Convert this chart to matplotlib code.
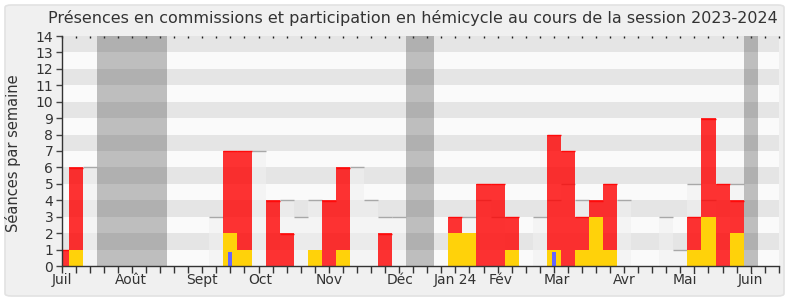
import matplotlib
matplotlib.use('Agg')
import matplotlib.pyplot as plt
from matplotlib.patches import FancyBboxPatch

# one value per week of the session, week 0 = first week of July 2023
weeks = list(range(52))
commission = [1, 6, 0, 0, 0, 0, 0, 0, 0, 0, 0, 0, 7, 7, 0, 4, 2, 0, 0, 4,
              6, 0, 0, 2, 0, 0, 0, 0, 3, 0, 5, 5, 3, 0, 0, 8, 7, 3, 4, 5,
              0, 0, 0, 0, 0, 3, 9, 5, 4, 0, 0, 0]
hemicycle = [0, 1, 0, 0, 0, 0, 0, 0, 0, 0, 0, 0, 2, 1, 0, 0, 0, 0, 1, 0,
             1, 0, 0, 0, 0, 0, 0, 0, 2, 2, 0, 0, 1, 0, 0, 1, 0, 1, 3, 1,
             0, 0, 0, 0, 0, 1, 3, 0, 2, 0, 0, 0]
questions = [0, 0, 0, 0, 0, 0, 0, 0, 0, 0, 0, 0, 0.85, 0, 0, 0, 0, 0, 0, 0,
             0, 0, 0, 0, 0, 0, 0, 0, 0, 0, 0, 0, 0, 0, 0, 0.85, 0, 0, 0, 0,
             0, 0, 0, 0, 0, 0, 0, 0, 0, 0, 0, 0]
mediane = [0, 0, 6, 0, 0, 0, 0, 0, 0, 0, 0, 3, 0, 0, 7, 0, 4, 3, 4, 0,
           0, 6, 4, 3, 3, 0, 0, 0, 0, 3, 4, 3, 0, 0, 3, 4, 5, 4, 0, 0,
           4, 0, 0, 3, 1, 5, 4, 0, 5, 0, 0, 0]
vacances = [(3, 7), (25, 26), (49, 49)]

mois = ['Juil', 'Août', 'Sept', 'Oct', 'Nov', 'Déc', 'Jan 24', 'Fév',
        'Mar', 'Avr', 'Mai', 'Juin']
mois_pos = [0, 4.95, 9.95, 14.1, 19, 24.05, 28, 31.25, 35.2, 40, 44.3, 49]

fig = plt.figure(figsize=(7.9, 3.0), dpi=100)
fig.patch.set_facecolor('white')
fig.patches.append(FancyBboxPatch((5 / 790, 4 / 300), 779 / 790, 291 / 300,
                                  boxstyle='round,pad=0,rounding_size=0.008',
                                  transform=fig.transFigure, facecolor='#f0f0f0',
                                  edgecolor='#e2e2e2', linewidth=1.2, zorder=-10))

ax = fig.add_axes([61.7 / 790, 34 / 300, 717.1 / 790, 230 / 300])
ax.set_xlim(0, 51)
ax.set_ylim(0, 14)

# background stripes
for k in range(14):
    ax.axhspan(k, k + 1, color='#e5e5e5' if k % 2 else '#fafafa', lw=0, zorder=0)

# parliamentary holidays
for a, b in vacances:
    ax.axvspan(a - 0.5, b + 0.5, color='#464646', alpha=0.33, lw=0, zorder=1)

# median of all deputies
ax.bar(weeks, mediane, width=1, color='#f0f0f0', alpha=0.6, lw=0, zorder=2)
for w, m in zip(weeks, mediane):
    if m > 0:
        ax.hlines(m, w - 0.5, w + 0.5, color='#a8a8a8', lw=1, zorder=2.5)

ax.bar(weeks, commission, width=1, color='red', alpha=0.8, lw=0, zorder=3)
for w, c in zip(weeks, commission):
    if c > 0:
        ax.hlines(c - 0.03, w - 0.5, w + 0.5, color='#ff0a0a', lw=1, zorder=3.2)
ax.bar(weeks, hemicycle, width=1, color='#ffd20a', lw=0, zorder=4)
ax.bar(weeks, questions, width=0.28, color='#6464ff', lw=0, zorder=5)

for s in ['top', 'right']:
    ax.spines[s].set_visible(False)
for s in ['left', 'bottom']:
    ax.spines[s].set_color('#333333')
    ax.spines[s].set_linewidth(1)
    ax.spines[s].set_zorder(6)

ax.set_xticks(weeks)
ax.set_xticklabels([])
ax.tick_params(axis='x', length=5, width=1, color='#333333', direction='out')
for lab, p in zip(mois, mois_pos):
    ax.text(p, -0.062, lab, transform=ax.get_xaxis_transform(), ha='center',
            va='center', fontsize=10, color='#333333', clip_on=False)

# small tick dots along the top edge
top = ax.secondary_xaxis('top')
top.set_xticks(weeks)
top.set_xticklabels([])
top.tick_params(length=1.5, width=1, color='#222222', direction='in')
top.spines['top'].set_visible(False)

ax.set_yticks(range(15))
ax.tick_params(axis='y', length=4, width=1, color='#444444', labelsize=10,
               labelcolor='#333333', pad=2)

fig.text(0.522, 0.94, 'Présences en commissions et participation en hémicycle '
         'au cours de la session 2023-2024', ha='center', va='center',
         fontsize=11.5, color='#333333')
fig.text(0.017, 0.49, 'Séances par semaine', rotation=90, ha='center',
         va='center', fontsize=10.5, color='#333333')

fig.savefig('out.png', dpi=100, facecolor=fig.get_facecolor())
